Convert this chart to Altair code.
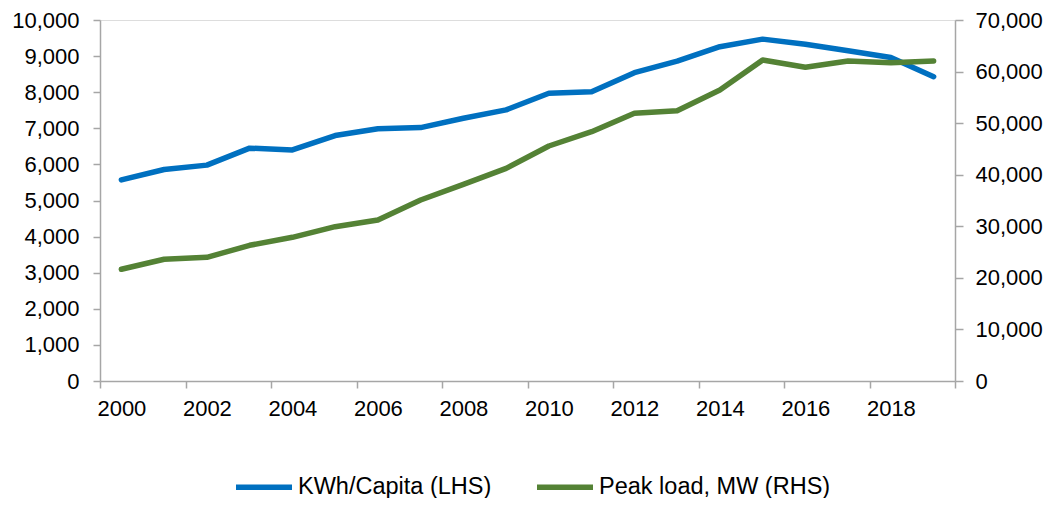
import altair as alt
import pandas as pd

years = list(range(2000, 2020))
kwh_per_capita = [5570, 5860, 5980, 6450, 6400, 6800, 6990, 7020, 7280, 7510,
                  7970, 8010, 8540, 8860, 9260, 9470, 9330, 9150, 8960, 8430]
peak_load_mw = [21660, 23600, 23990, 26310, 27860, 29920, 31220, 35100, 38140, 41240,
                45570, 48340, 51900, 52410, 56430, 62240, 60830, 62050, 61720, 62050]
series_names = ["KWh/Capita (LHS)", "Peak load, MW (RHS)"]
series_colors = ["#0070C0", "#548235"]
x_tick_values = list(range(2000, 2021, 2))
left_ticks = list(range(0, 10001, 1000))
right_ticks = list(range(0, 70001, 10000))

df_left = pd.DataFrame({"year": years, "value": kwh_per_capita, "series": series_names[0]})
df_right = pd.DataFrame({"year": years, "value": peak_load_mw, "series": series_names[1]})

W, H = 855, 361
FONT = "Liberation Sans"
AX = "#A6A6A6"

x_enc = alt.X(
    "xpos:Q",
    scale=alt.Scale(domain=[2000, 2020], nice=False, zero=False),
    axis=alt.Axis(
        values=x_tick_values, format="d", title=None, grid=False,
        labelExpr="datum.value >= 2020 ? '' : datum.label",
        labelOffset=W / 40, labelPadding=10, tickSize=7,
        labelFontSize=22, labelColor="#000000", labelFont=FONT,
        domainColor=AX, tickColor=AX, domainWidth=1.5, tickWidth=1.5,
        labelFlush=False, labelOverlap=False,
    ),
)

color_enc = alt.Color(
    "series:N",
    scale=alt.Scale(domain=series_names, range=series_colors),
    legend=alt.Legend(
        title=None, orient="none", legendX=133, legendY=436, direction="horizontal",
        symbolType="stroke", symbolSize=3136, symbolStrokeWidth=5.5,
        labelFontSize=23.5, labelFont=FONT, labelColor="#000000",
        labelOffset=3, columnPadding=34, labelLimit=400,
    ),
)

left = alt.Chart(df_left).transform_calculate(xpos="datum.year + 0.5").mark_line(
    strokeWidth=5.5, strokeCap="round", strokeJoin="round"
).encode(
    x=x_enc,
    y=alt.Y(
        "value:Q",
        scale=alt.Scale(domain=[0, 10000], nice=False),
        axis=alt.Axis(
            orient="left", values=left_ticks, format=",.0f", title=None, grid=False,
            tickSize=7, labelPadding=14, labelFontSize=22, labelColor="#000000",
            labelFont=FONT, domainColor=AX, tickColor=AX, domainWidth=1.5, tickWidth=1.5,
            labelFlush=False, labelOverlap=False,
        ),
    ),
    color=color_enc,
)

right = alt.Chart(df_right).transform_calculate(xpos="datum.year + 0.5").mark_line(
    strokeWidth=5.5, strokeCap="round", strokeJoin="round"
).encode(
    x=x_enc,
    y=alt.Y(
        "value:Q",
        scale=alt.Scale(domain=[0, 70000], nice=False),
        axis=alt.Axis(
            orient="right", values=right_ticks, format=",.0f", title=None, grid=False,
            tickSize=8, labelPadding=12, labelFontSize=22, labelColor="#000000",
            labelFont=FONT, domainColor=AX, tickColor=AX, domainWidth=1.5, tickWidth=1.5,
            labelFlush=False, labelOverlap=False,
        ),
    ),
    color=color_enc,
)

chart = alt.layer(left, right).resolve_scale(y="independent").properties(
    width=W, height=H,
    autosize=alt.AutoSizeParams(type="none"),
    padding={"left": 92, "top": 12, "right": 90, "bottom": 117},
    background="white",
).configure_view(stroke=None).configure(font=FONT)

chart.save("out.html", embed_options={"renderer": "svg", "actions": False})
